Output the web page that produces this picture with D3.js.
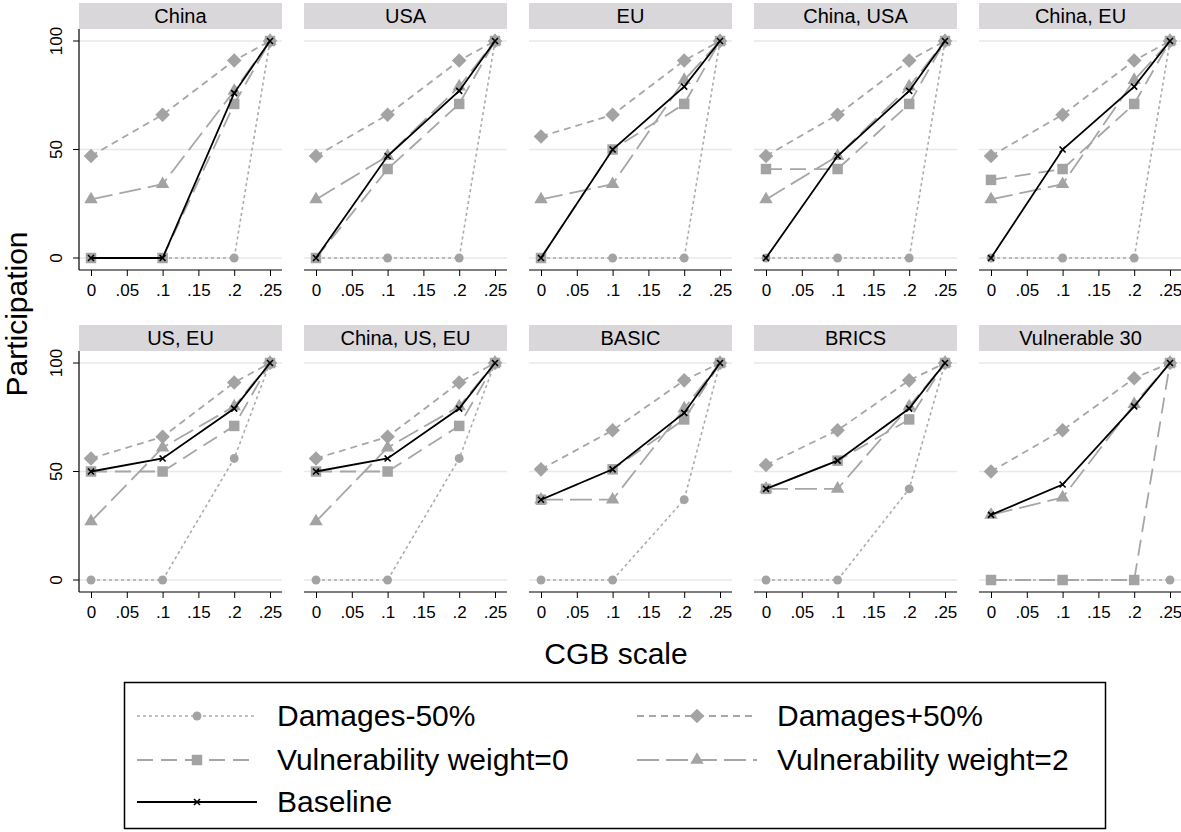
<!DOCTYPE html>
<html>
<head>
<meta charset="utf-8">
<script src="https://cdn.jsdelivr.net/npm/d3@7"></script>
<style>
  body { margin: 0; background: #fff; }
  svg { font-family: "Liberation Sans", Arial, sans-serif; }
</style>
</head>
<body>
<div id="chart"></div>
<script>
// Data
const xValues = [0, 0.1, 0.2, 0.25]
const xTicks = [0, 0.05, 0.1, 0.15, 0.2, 0.25]
const yTicks = [0, 50, 100]
const panels = ['China', 'USA', 'EU', 'China, USA', 'China, EU',
  'US, EU', 'China, US, EU', 'BASIC', 'BRICS', 'Vulnerable 30']

const damagesMinus50 = [
  [0, 0, 0, 100], [0, 0, 0, 100], [0, 0, 0, 100], [0, 0, 0, 100], [0, 0, 0, 100],
  [0, 0, 56, 100], [0, 0, 56, 100], [0, 0, 37, 100], [0, 0, 42, 100], [0, 0, 0, 0]
]
const damagesPlus50 = [
  [47, 66, 91, 100], [47, 66, 91, 100], [56, 66, 91, 100], [47, 66, 91, 100], [47, 66, 91, 100],
  [56, 66, 91, 100], [56, 66, 91, 100], [51, 69, 92, 100], [53, 69, 92, 100], [50, 69, 93, 100]
]
const vulnWeight0 = [
  [0, 0, 71, 100], [0, 41, 71, 100], [0, 50, 71, 100], [41, 41, 71, 100], [36, 41, 71, 100],
  [50, 50, 71, 100], [50, 50, 71, 100], [37, 51, 74, 100], [42, 55, 74, 100], [0, 0, 0, 100]
]
const vulnWeight2 = [
  [27, 34, 77, 100], [27, 47, 79, 100], [27, 34, 82, 100], [27, 47, 79, 100], [27, 34, 82, 100],
  [27, 61, 80, 100], [27, 61, 80, 100], [37, 37, 79, 100], [42, 42, 80, 100], [30, 38, 81, 100]
]
const baseline = [
  [0, 0, 76, 100], [0, 47, 77, 100], [0, 50, 79, 100], [0, 47, 77, 100], [0, 50, 79, 100],
  [50, 56, 79, 100], [50, 56, 79, 100], [37, 51, 77, 100], [42, 55, 79, 100], [30, 44, 80, 100]
]

const seriesNames = ['Damages-50%', 'Damages+50%', 'Vulnerability weight=0', 'Vulnerability weight=2', 'Baseline']
const seriesData = [damagesMinus50, damagesPlus50, vulnWeight0, vulnWeight2, baseline]

// styles
const grey = '#a3a3a3'
const styles = [
  { stroke: '#ababab', dash: '3,3', width: 1.6, marker: 'circle' },
  { stroke: '#a6a6a6', dash: '7,5', width: 1.8, marker: 'diamond' },
  { stroke: '#a6a6a6', dash: '16,8', width: 1.8, marker: 'square' },
  { stroke: '#a6a6a6', dash: '22,7', width: 1.8, marker: 'triangle' },
  { stroke: '#000', dash: null, width: 1.8, marker: 'x' }
]

const width = 1181,
  height = 832,
  left0 = 79,
  colStep = 225,
  plotW = 203,
  rowTops = [3, 325],
  stripH = 26,
  plotH = 241

let svg = d3.select('#chart')
  .append('svg')
  .attr('width', width)
  .attr('height', height)

let xScale = d3.scaleLinear().domain([0, 0.25]).range([12, plotW - 12])
let yScale = d3.scaleLinear().domain([0, 100]).range([plotH - 12, 12])

let fmt = d => d === 0 ? '0' : String(d).replace(/^0/, '')

let markerPath = (type) => {
  if (type === 'circle') return d3.symbol(d3.symbolCircle, 62)()
  if (type === 'square') return d3.symbol(d3.symbolSquare, 110)()
  if (type === 'triangle') return d3.symbol(d3.symbolTriangle, 78)()
  if (type === 'diamond') {
    let s = 7.3
    return `M0,${-s}L${s},0L0,${s}L${-s},0Z`
  }
  return 'M-3,-3L3,3M-3,3L3,-3'
}

let drawMarker = (g, type, x, y) => {
  let p = g.append('path')
    .attr('transform', `translate(${x},${y})`)
    .attr('d', markerPath(type))
  if (type === 'x') {
    p.attr('fill', 'none').attr('stroke', '#000').attr('stroke-width', 1.6)
  } else {
    p.attr('fill', grey)
  }
}

panels.forEach((name, i) => {
  let col = i % 5, row = Math.floor(i / 5)
  let left = left0 + col * colStep
  let top = rowTops[row]

  // strip
  svg.append('rect')
    .attr('x', left).attr('y', top)
    .attr('width', plotW).attr('height', stripH)
    .attr('fill', '#d9d7da')
  svg.append('text')
    .attr('x', left + plotW / 2).attr('y', top + 20)
    .attr('text-anchor', 'middle')
    .attr('font-size', 20)
    .text(name)

  let g = svg.append('g')
    .attr('transform', `translate(${left},${top + stripH})`)

  // grid
  g.selectAll('.grid')
    .data(yTicks)
    .enter()
    .append('line')
    .attr('x1', 0).attr('x2', plotW)
    .attr('y1', d => yScale(d)).attr('y2', d => yScale(d))
    .attr('stroke', '#ece7e9')
    .attr('stroke-width', 1.5)

  // x axis
  let xa = g.append('g')
    .attr('transform', `translate(0,${plotH})`)
    .call(d3.axisBottom(xScale)
      .tickValues(xTicks)
      .tickFormat(fmt)
      .tickSize(6)
      .tickPadding(8))
  xa.select('.domain').remove()
  xa.selectAll('text').attr('font-size', 17).attr('font-family', null).attr('fill', '#000')
  xa.selectAll('.tick line').attr('stroke', '#000')
  xa.append('line')
    .attr('x1', 0).attr('x2', plotW)
    .attr('stroke', '#000').attr('stroke-width', 1.2)

  // y axis on first column
  if (col === 0) {
    g.append('line')
      .attr('x1', 0).attr('x2', 0)
      .attr('y1', 0).attr('y2', plotH)
      .attr('stroke', '#000').attr('stroke-width', 1.2)
    yTicks.forEach(t => {
      g.append('line')
        .attr('x1', -6).attr('x2', 0)
        .attr('y1', yScale(t)).attr('y2', yScale(t))
        .attr('stroke', '#000')
      g.append('text')
        .attr('transform', `translate(-17,${yScale(t)}) rotate(-90)`)
        .attr('text-anchor', 'middle')
        .attr('font-size', 17)
        .text(t)
    })
  }

  // series
  let line = d3.line()
    .x((d, j) => xScale(xValues[j]))
    .y(d => yScale(d))

  seriesData.forEach((sd, s) => {
    let st = styles[s]
    let vals = sd[i]
    g.append('path')
      .attr('d', line(vals))
      .attr('fill', 'none')
      .attr('stroke', st.stroke)
      .attr('stroke-width', st.width)
      .attr('stroke-dasharray', st.dash)
    vals.forEach((v, j) => drawMarker(g, st.marker, xScale(xValues[j]), yScale(v)))
  })
})

// axis titles
svg.append('text')
  .attr('transform', 'translate(27,314) rotate(-90)')
  .attr('text-anchor', 'middle')
  .attr('font-size', 30)
  .text('Participation')

svg.append('text')
  .attr('x', 616).attr('y', 664)
  .attr('text-anchor', 'middle')
  .attr('font-size', 30)
  .text('CGB scale')

// legend
let legend = svg.append('g')
legend.append('rect')
  .attr('x', 124.5).attr('y', 682.5)
  .attr('width', 981).attr('height', 146)
  .attr('fill', 'none')
  .attr('stroke', '#000')
  .attr('stroke-width', 1.5)

let legendPos = [
  { x: 137, y: 716 }, { x: 637, y: 716 },
  { x: 137, y: 760 }, { x: 637, y: 760 },
  { x: 137, y: 802 }
]

seriesNames.forEach((name, s) => {
  let st = styles[s]
  let p = legendPos[s]
  legend.append('line')
    .attr('x1', p.x).attr('x2', p.x + 120)
    .attr('y1', p.y).attr('y2', p.y)
    .attr('stroke', st.stroke)
    .attr('stroke-width', st.width)
    .attr('stroke-dasharray', st.dash)
  drawMarker(legend, st.marker, p.x + 60, p.y)
  legend.append('text')
    .attr('x', p.x + 140).attr('y', p.y + 10)
    .attr('font-size', 30)
    .text(name)
})
</script>
</body>
</html>
